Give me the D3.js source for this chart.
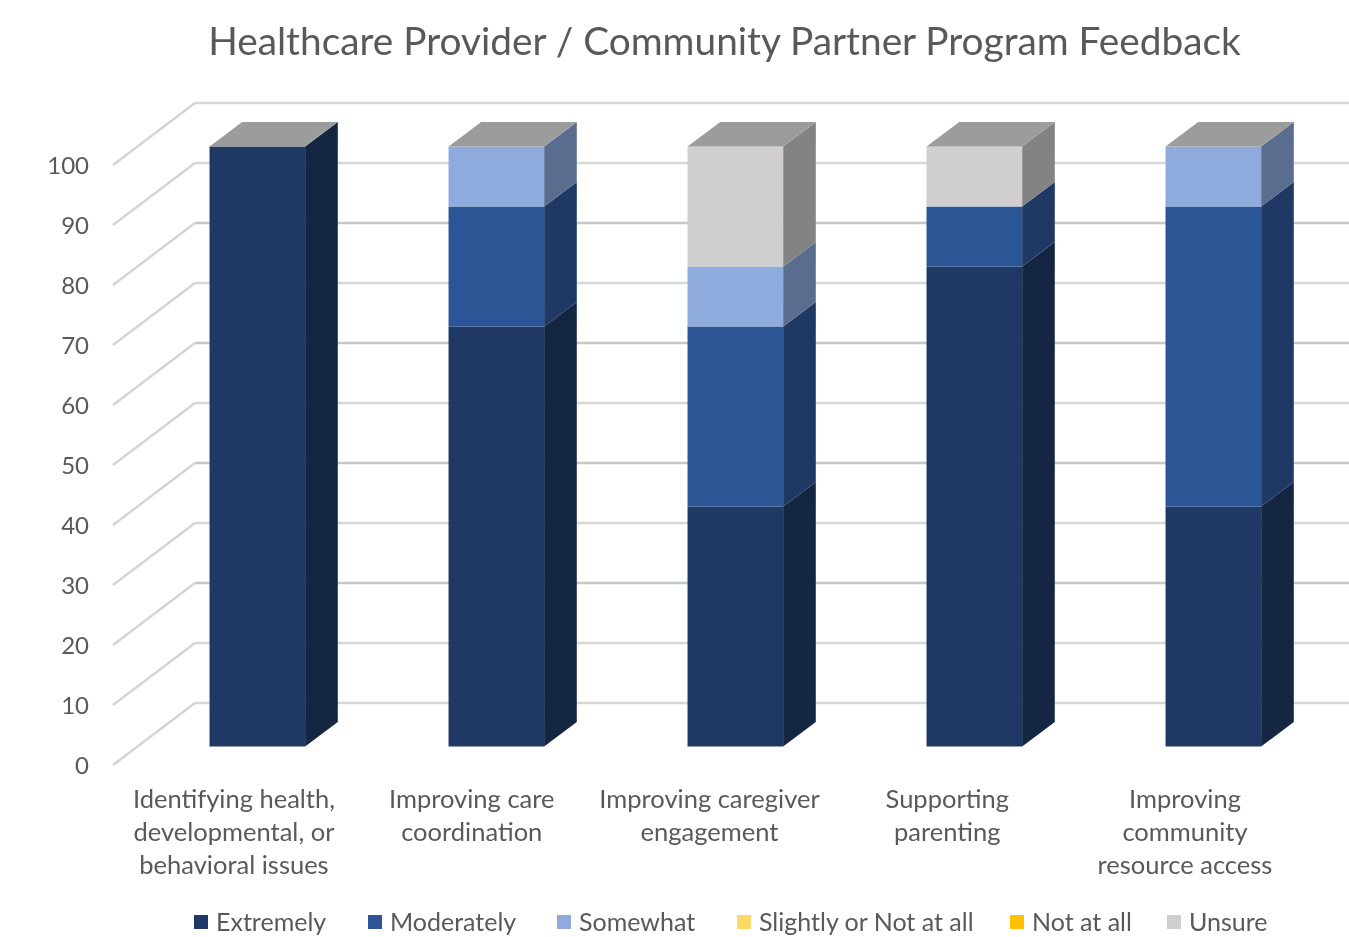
<!DOCTYPE html>
<html><head><meta charset="utf-8">
<script src="https://cdn.jsdelivr.net/npm/d3@7"></script>
<style>html,body{margin:0;background:#fff}svg{display:block;filter:blur(0.45px)}text{font-family:Lato,"Open Sans",sans-serif;fill:#595959}</style>
</head><body><svg id="c" width="1349" height="937"></svg>
<script>
const titleText = "Healthcare Provider / Community Partner Program Feedback";
const categories = ["Identifying health,|developmental, or|behavioral issues","Improving care|coordination","Improving caregiver|engagement","Supporting|parenting","Improving|community|resource access"];
const seriesNames = ["Extremely","Moderately","Somewhat","Slightly or Not at all","Not at all","Unsure"];
const extremely = [100,70,40,80,40];
const moderately = [0,20,30,10,50];
const somewhat = [0,10,10,0,10];
const slightly = [0,0,0,0,0];
const notAtAll = [0,0,0,0,0];
const unsure = [0,0,20,10,0];
const tickValues = [0,10,20,30,40,50,60,70,80,90,100];
const frontColors = ["#1f3864","#2c5596","#8faadc","#ffd966","#ffc000","#d0cece"];
const sideColors = ["#152642","#1f3864","#5b6d8f","#b09645","#b08600","#838383"];
const legendSwatch = ["#1f3864","#2c5596","#8faadc","#ffd966","#ffc000","#d0cece"];
const legendX = [194,368,557,737,1010,1167];

const svg = d3.select("#c");
const y = d3.scaleLinear().domain([0,100]).range([765,165]);
const x = d3.scaleBand().domain(d3.range(categories.length)).range([114,1309]).paddingInner(0.6).paddingOuter(0.3);
const labelX = d3.scalePoint().domain(d3.range(categories.length)).range([234,1185]);
// oblique projection: wall depth and bar placement in depth
const wallDX = 82, wallDY = -62, barZ0 = 18.4/62, barZ1 = 0.695;
const wallRight = 1349;

const gr = svg.append("g");
tickValues.forEach(t=>{
  const yy = y(t);
  gr.append("line").attr("x1",x.range()[0]-1).attr("y1",yy).attr("x2",x.range()[0]-1+wallDX).attr("y2",yy+wallDY)
    .attr("stroke","#d4d4d4").attr("stroke-width",2.4);
  gr.append("line").attr("x1",x.range()[0]-1+wallDX).attr("y1",yy+wallDY).attr("x2",wallRight).attr("y2",yy+wallDY)
    .attr("stroke",t%20==0&&t>0&&t<100?"#c8c8c8":"#d8d8d8").attr("stroke-width",2.4);
});

const axis = d3.axisLeft(y).tickValues(tickValues).tickSize(0).tickPadding(0);
const ag = svg.append("g").attr("transform","translate(89,0)").call(axis);
ag.select(".domain").remove();
ag.selectAll("text").style("font-size","24px").style("font-family","Lato").attr("fill","#595959").attr("dy","0.34em");

const rows = categories.map((c,i)=>({i,0:extremely[i],1:moderately[i],2:somewhat[i],3:slightly[i],4:notAtAll[i],5:unsure[i]}));
const stack = d3.stack().keys(d3.range(6))(rows);
const dx = wallDX*(barZ1-barZ0), dy = wallDY*(barZ1-barZ0);
const ox = wallDX*barZ0, oy = wallDY*barZ0;
const line = d3.line();
stack.forEach((layer,k)=>{
  layer.forEach((d,i)=>{
    if(d[1]-d[0]<=0) return;
    const x0 = x(i)+ox-0.5, x1 = x0+x.bandwidth();
    const yb = y(d[0])+oy, yt = y(d[1])+oy;
    svg.append("path").attr("d",line([[x1,yb],[x1+dx,yb+dy],[x1+dx,yt+dy],[x1,yt]])+"Z").attr("fill",sideColors[k]);
    svg.append("path").attr("d",line([[x0,yb],[x1,yb],[x1,yt],[x0,yt]])+"Z").attr("fill",frontColors[k]);
  });
});
categories.forEach((c,i)=>{
  const x0 = x(i)+ox-0.5, x1 = x0+x.bandwidth(), yt = y(100)+oy;
  svg.append("path").attr("d",line([[x0,yt],[x1,yt],[x1+dx,yt+dy],[x0+dx,yt+dy]])+"Z").attr("fill","#9c9c9c");
});

categories.forEach((c,i)=>{
  c.split("|").forEach((s,j)=>{
    svg.append("text").attr("x",labelX(i)).attr("y",808+j*33).attr("text-anchor","middle").style("font-size","25.5px").text(s);
  });
});

svg.append("text").attr("x",724.5).attr("y",55).attr("text-anchor","middle").style("font-size","38.8px").text(titleText);

seriesNames.forEach((s,i)=>{
  svg.append("rect").attr("x",legendX[i]).attr("y",915).attr("width",14).attr("height",14).attr("fill",legendSwatch[i]);
  svg.append("text").attr("x",legendX[i]+22).attr("y",931).style("font-size","25px").text(s);
});
</script></body></html>
